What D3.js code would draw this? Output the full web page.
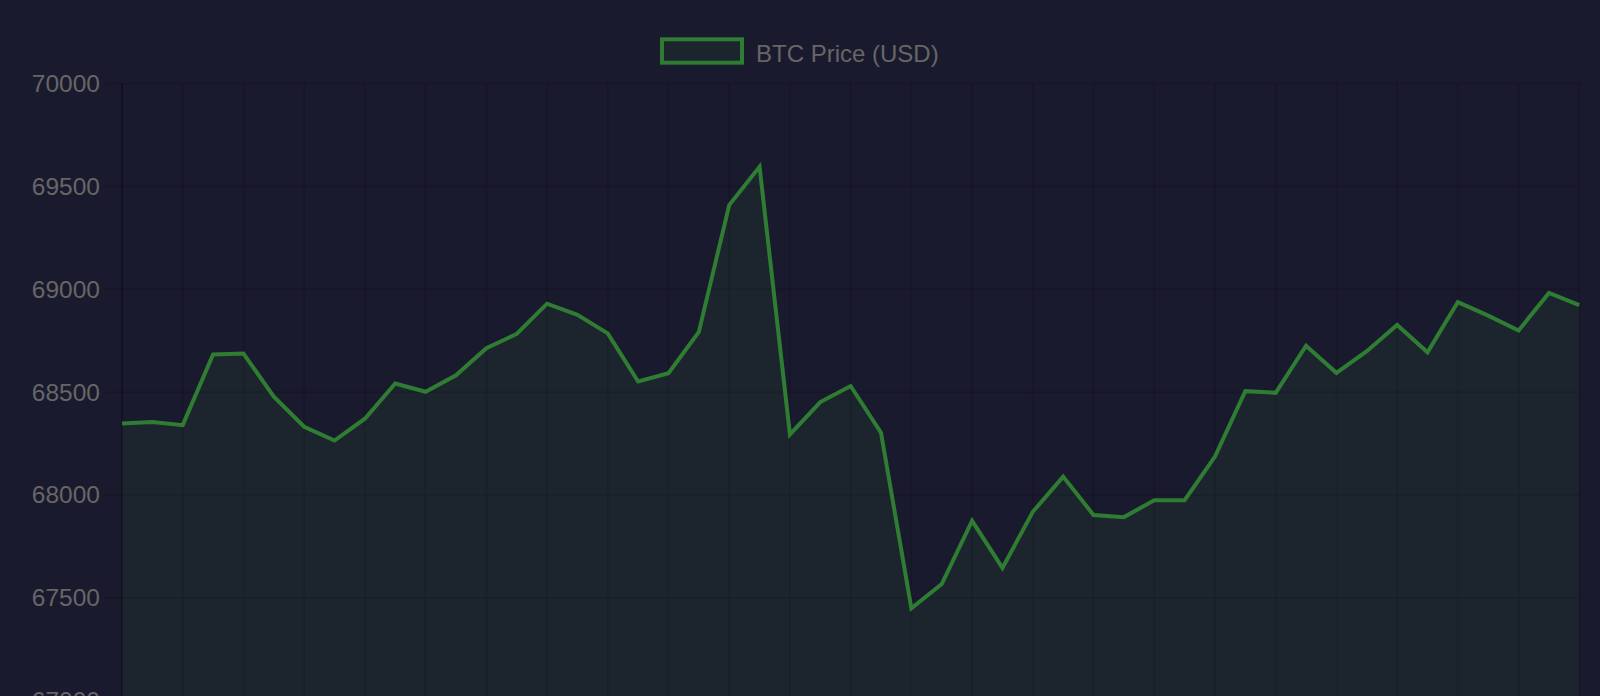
<!DOCTYPE html>
<html>
<head>
<meta charset="utf-8">
<script src="https://cdn.jsdelivr.net/npm/d3@7"></script>
<style>
  html, body { margin: 0; padding: 0; background: #1a1a2e; overflow: hidden; }
  svg { display: block; }
</style>
</head>
<body>
<svg id="chart" width="1600" height="696"></svg>
<script>
// ---- data ----
const timeLabels = [
  "00:00","00:30","01:00","01:30","02:00","02:30","03:00","03:30","04:00","04:30",
  "05:00","05:30","06:00","06:30","07:00","07:30","08:00","08:30","09:00","09:30",
  "10:00","10:30","11:00","11:30","12:00","12:30","13:00","13:30","14:00","14:30",
  "15:00","15:30","16:00","16:30","17:00","17:30","18:00","18:30","19:00","19:30",
  "20:00","20:30","21:00","21:30","22:00","22:30","23:00","23:30","24:00"
];
const btcPrice = [
  68348, 68355, 68340, 68683, 68688, 68478, 68332, 68265, 68371, 68542,
  68502, 68582, 68714, 68783, 68930, 68876, 68786, 68552, 68592, 68793,
  69409, 69595, 68295, 68452, 68530, 68303, 67450, 67568, 67875, 67646,
  67919, 68090, 67903, 67893, 67975, 67975, 68187, 68505, 68497, 68726,
  68594, 68699, 68827, 68694, 68938, 68872, 68800, 68982, 68923
];
const yTicks = [67000, 67500, 68000, 68500, 69000, 69500, 70000];
const seriesName = "BTC Price (USD)";

// ---- layout ----
const area = { left: 122, right: 1579.3, top: 83.5, bottom: 700.9 };
const lineColor = "#2e7d32";
const fillColor = "rgba(46,125,50,0.1)";
const textColor = "#666666";
const gridColor = "rgba(0,0,0,0.12)";
const fontFamily = "'Liberation Sans', Arial, Helvetica, sans-serif";

const svg = d3.select("#chart");

const x = d3.scalePoint().domain(timeLabels).range([area.left, area.right]);
const y = d3.scaleLinear().domain([67000, 70000]).range([area.bottom, area.top]);

// grid - horizontal (with tick marks extending left)
const gGrid = svg.append("g");
gGrid.selectAll("line.h").data(yTicks).join("line")
  .attr("class", "h")
  .attr("x1", area.left - 16).attr("x2", area.right)
  .attr("y1", d => y(d)).attr("y2", d => y(d))
  .attr("stroke", gridColor).attr("stroke-width", 2);

// grid - vertical (every other label, as auto-skipped ticks)
const xGridLabels = timeLabels.filter((d, i) => i % 2 === 0);
gGrid.selectAll("line.v").data(xGridLabels).join("line")
  .attr("class", "v")
  .attr("x1", d => x(d)).attr("x2", d => x(d))
  .attr("y1", area.top).attr("y2", area.bottom + 16)
  .attr("stroke", gridColor).attr("stroke-width", 2);

// axis border line
svg.append("line")
  .attr("x1", area.left).attr("x2", area.left)
  .attr("y1", area.top).attr("y2", area.bottom)
  .attr("stroke", "rgba(0,0,0,0.22)").attr("stroke-width", 2);

// y axis labels via d3 axis
const yAxis = d3.axisLeft(y).tickValues(yTicks).tickSize(0).tickPadding(22).tickFormat(d3.format("d"));
const gY = svg.append("g").attr("transform", `translate(${area.left},0)`).call(yAxis);
gY.select(".domain").remove();
gY.selectAll("text")
  .attr("fill", textColor)
  .style("font-family", fontFamily)
  .style("font-size", "24.5px");

// area fill
const areaGen = d3.area()
  .x((d, i) => x(timeLabels[i]))
  .y0(area.bottom)
  .y1(d => y(d));
svg.append("path").datum(btcPrice)
  .attr("d", areaGen)
  .attr("fill", fillColor);

// line
const lineGen = d3.line()
  .x((d, i) => x(timeLabels[i]))
  .y(d => y(d));
svg.append("path").datum(btcPrice)
  .attr("d", lineGen)
  .attr("fill", "none")
  .attr("stroke", lineColor)
  .attr("stroke-width", 4)
  .attr("stroke-linejoin", "miter")
  .attr("stroke-miterlimit", 10);

// legend
const legend = svg.append("g");
legend.append("rect")
  .attr("x", 662).attr("y", 39.3).attr("width", 80).attr("height", 23.4)
  .attr("fill", fillColor)
  .attr("stroke", lineColor).attr("stroke-width", 4);
legend.append("text")
  .attr("x", 756).attr("y", 62.3)
  .attr("fill", textColor)
  .style("font-family", fontFamily)
  .style("font-size", "24px")
  .text(seriesName);
</script>
</body>
</html>
